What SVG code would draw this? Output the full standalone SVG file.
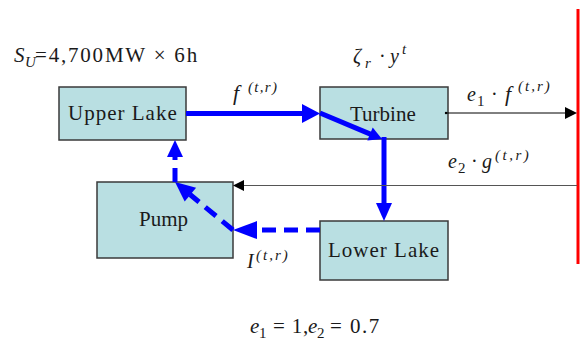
<svg xmlns="http://www.w3.org/2000/svg" width="581" height="341" viewBox="0 0 581 341">
<style>
.box{fill:#b9dfe2;stroke:#3a3a3a;stroke-width:1.5}
.lbl{font-family:'Liberation Serif',serif;font-size:21px;fill:#1a1a1a}
.m{font-family:'Liberation Serif',serif;font-style:italic;fill:#1a1a1a}
.up{font-family:'Liberation Serif',serif;fill:#1a1a1a}
.blue{stroke:#0000ff;stroke-width:5;fill:none}
.dash{stroke:#0000ff;stroke-width:5;fill:none;stroke-dasharray:14 8}
.head{fill:#0000ff}
.thin{stroke:#000;stroke-width:1;fill:none}
</style>
<rect width="581" height="341" fill="#fff"/>
<g id="upper-lake"><rect class="box" x="59" y="87" width="127" height="53"/><text class="lbl" font-family="'Liberation Serif', serif" x="68" y="120" letter-spacing="1">Upper Lake</text></g>
<g id="turbine"><rect class="box" x="320" y="87" width="128" height="52"/><text class="lbl" font-family="'Liberation Serif', serif" x="350" y="121">Turbine</text></g>
<g id="pump"><rect class="box" x="97" y="182" width="136" height="76"/><text class="lbl" font-family="'Liberation Serif', serif" x="139" y="226">Pump</text></g>
<g id="lower-lake"><rect class="box" x="320" y="221" width="128" height="59"/><text class="lbl" font-family="'Liberation Serif', serif" x="328" y="257" letter-spacing="1">Lower Lake</text></g>
<g id="grid"><line x1="578" y1="9" x2="578" y2="264" stroke="#ff0000" stroke-width="3"/></g>
<g id="connectors">
<line class="blue" x1="186" y1="113.5" x2="304" y2="113.5"/>
<polygon class="head" points="302,104 320,113.5 302,123"/>
<line class="blue" x1="320" y1="113" x2="371" y2="134.4"/>
<polygon class="head" points="367.3,140.4 382,139 372.7,127.5"/>
<line class="blue" x1="384" y1="137" x2="384" y2="205"/>
<polygon class="head" points="376,203 392,203 384,221"/>
<line class="dash" x1="320" y1="230" x2="250" y2="230"/>
<polygon class="head" points="257,221 233,230 257,239"/>
<line class="dash" x1="233" y1="230" x2="190" y2="194.5"/>
<polygon class="head" points="196.1,187.8 175,182 184.7,201.6"/>
<line class="dash" x1="175" y1="182" x2="175" y2="157" stroke-dasharray="5 7 14"/>
<polygon class="head" points="167,157 183,157 175,140"/>
<line class="thin" x1="446" y1="113" x2="566" y2="113"/>
<polygon points="565,107 577,113 565,119" fill="#000"/>
<circle cx="446" cy="113" r="1.2" fill="#000"/>
<line x1="577" y1="185.5" x2="244" y2="185.5" stroke="#555" stroke-width="1.2"/>
<polygon points="244,180 233,185.5 244,191" fill="#000"/>
</g>
<g id="labels">
<text class="m" font-family="'Liberation Serif', serif" x="14" y="62" font-size="21">S</text>
<text class="m" font-family="'Liberation Serif', serif" x="25" y="67" font-size="15">U</text>
<text class="up" font-family="'Liberation Serif', serif" x="35" y="62" font-size="21" letter-spacing="1.8">=4,700MW × 6h</text>
<text class="m" font-family="'Liberation Serif', serif" x="233" y="100" font-size="22">f</text>
<text class="m" font-family="'Liberation Serif', serif" x="248" y="92" font-size="15" letter-spacing="1.3">(t,r)</text>
<text class="m" font-family="'Liberation Serif', serif" x="353" y="63" font-size="20">ζ</text>
<text class="m" font-family="'Liberation Serif', serif" x="365" y="68" font-size="15">r</text>
<text class="up" font-family="'Liberation Serif', serif" x="379" y="63" font-size="20">·</text>
<text class="m" font-family="'Liberation Serif', serif" x="390" y="63" font-size="20">y</text>
<text class="m" font-family="'Liberation Serif', serif" x="402" y="54" font-size="15">t</text>
<text class="m" font-family="'Liberation Serif', serif" x="467" y="101" font-size="20">e</text>
<text class="up" font-family="'Liberation Serif', serif" x="477" y="106" font-size="15">1</text>
<text class="up" font-family="'Liberation Serif', serif" x="491" y="101" font-size="20">·</text>
<text class="m" font-family="'Liberation Serif', serif" x="505" y="101" font-size="22">f</text>
<text class="m" font-family="'Liberation Serif', serif" x="518" y="91" font-size="15" letter-spacing="2">(t,r)</text>
<text class="m" font-family="'Liberation Serif', serif" x="448" y="168" font-size="20">e</text>
<text class="up" font-family="'Liberation Serif', serif" x="458" y="173" font-size="15">2</text>
<text class="up" font-family="'Liberation Serif', serif" x="471" y="168" font-size="20">·</text>
<text class="m" font-family="'Liberation Serif', serif" x="482" y="168" font-size="20">g</text>
<text class="m" font-family="'Liberation Serif', serif" x="495" y="160" font-size="15" letter-spacing="2.5">(t,r)</text>
<text class="m" font-family="'Liberation Serif', serif" x="247" y="268" font-size="20">I</text>
<text class="m" font-family="'Liberation Serif', serif" x="256" y="260" font-size="15" letter-spacing="2">(t,r)</text>
<text class="m" font-family="'Liberation Serif', serif" x="250" y="333" font-size="21">e</text>
<text class="up" font-family="'Liberation Serif', serif" x="259" y="338" font-size="15">1</text>
<text class="up" font-family="'Liberation Serif', serif" x="273" y="333" font-size="21" letter-spacing="0.8">= 1,</text>
<text class="m" font-family="'Liberation Serif', serif" x="308" y="333" font-size="21">e</text>
<text class="up" font-family="'Liberation Serif', serif" x="317" y="338" font-size="15">2</text>
<text class="up" font-family="'Liberation Serif', serif" x="330" y="333" font-size="21" letter-spacing="1.5">= 0.7</text>
</g>
</svg>
